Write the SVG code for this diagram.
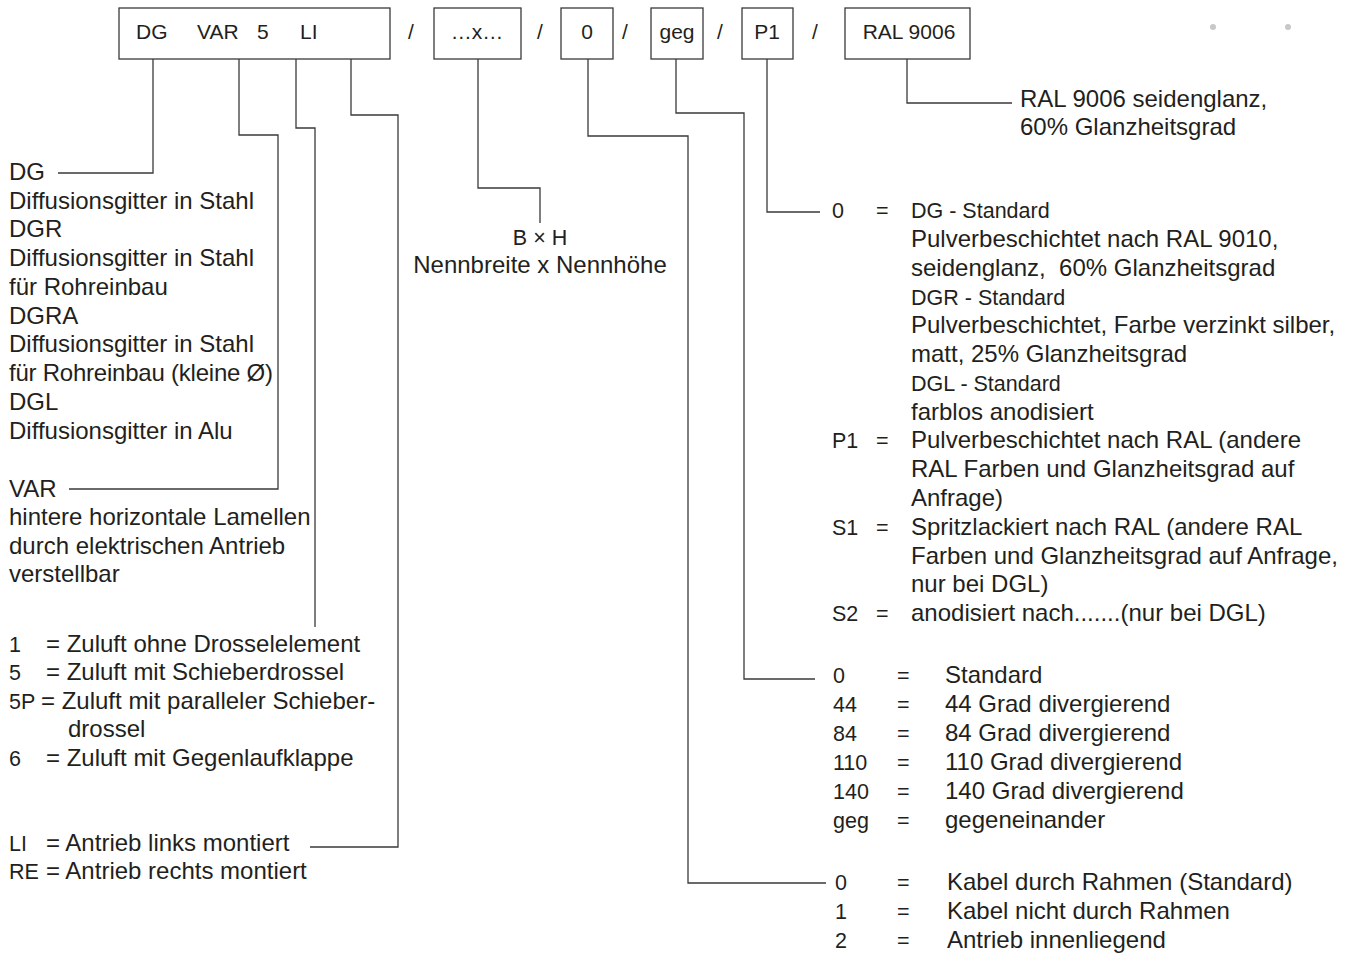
<svg xmlns="http://www.w3.org/2000/svg" width="1349" height="953" viewBox="0 0 1349 953">
<style>
text{font-family:"Liberation Sans",Arial,sans-serif;fill:#231f20}
.t{font-size:24px}
.m{font-size:21.5px}
.b{font-size:21px}
.box{fill:#fff;stroke:#3a3a3a;stroke-width:1.3}
.c{fill:none;stroke:#3a3a3a;stroke-width:1.3}
.mid{text-anchor:middle}
</style>
<rect width="1349" height="953" fill="#fff"/>
<g id="code">
<g id="box-main"><rect class="box" x="119" y="8" width="271" height="51"/>
<text class="b" x="136" y="39">DG</text><text class="b" x="197" y="39">VAR</text><text class="b" x="257" y="39">5</text><text class="b" x="300" y="39">LI</text></g>
<text class="b mid" x="411" y="39">/</text>
<g id="box-size"><rect class="box" x="434" y="8" width="87" height="51"/><text class="b mid" x="477" y="39">…x…</text></g>
<text class="b mid" x="540" y="39">/</text>
<g id="box-0"><rect class="box" x="561" y="8" width="52" height="51"/><text class="b mid" x="587" y="39">0</text></g>
<text class="b mid" x="625" y="39">/</text>
<g id="box-geg"><rect class="box" x="651" y="8" width="52" height="51"/><text class="b mid" x="677" y="39">geg</text></g>
<text class="b mid" x="720" y="39">/</text>
<g id="box-p1"><rect class="box" x="742" y="8" width="51" height="51"/><text class="b mid" x="767" y="39">P1</text></g>
<text class="b mid" x="815" y="39">/</text>
<g id="box-ral"><rect class="box" x="845" y="8" width="125" height="51"/><text class="b mid" x="909" y="39">RAL 9006</text></g>
</g>
<g id="connectors">
<path class="c" d="M153 59V173H58"/>
<path class="c" d="M239 59V135H278V489H69"/>
<path class="c" d="M296 59V128H315V627"/>
<path class="c" d="M351 59V115H398V847H310"/>
<path class="c" d="M478 59V188H540V223"/>
<path class="c" d="M588 59V136H688V883H826"/>
<path class="c" d="M676 59V113H744V679H815"/>
<path class="c" d="M767 59V212H820"/>
<path class="c" d="M907 59V103H1012"/>
</g>
<g id="legend-type">
<text class="t" x="9" y="180">DG</text>
<text class="t" x="9" y="209">Diffusionsgitter in Stahl</text>
<text class="t" x="9" y="237">DGR</text>
<text class="t" x="9" y="266">Diffusionsgitter in Stahl</text>
<text class="t" x="9" y="295">für Rohreinbau</text>
<text class="t" x="9" y="324">DGRA</text>
<text class="t" x="9" y="352">Diffusionsgitter in Stahl</text>
<text class="t" x="9" y="381" textLength="264">für Rohreinbau (kleine Ø)</text>
<text class="t" x="9" y="410">DGL</text>
<text class="t" x="9" y="439">Diffusionsgitter in Alu</text>
</g>
<g id="legend-var">
<text class="t" x="9" y="497">VAR</text>
<text class="t" x="9" y="525">hintere horizontale Lamellen</text>
<text class="t" x="9" y="554">durch elektrischen Antrieb</text>
<text class="t" x="9" y="582">verstellbar</text>
</g>
<g id="legend-damper">
<text class="m" x="9" y="652">1</text><text class="t" x="46" y="652">= Zuluft ohne Drosselelement</text>
<text class="m" x="9" y="680">5</text><text class="t" x="46" y="680">= Zuluft mit Schieberdrossel</text>
<text class="m" x="9" y="709">5P</text><text class="t" x="41" y="709">= Zuluft mit paralleler Schieber-</text>
<text class="t" x="68" y="737">drossel</text>
<text class="m" x="9" y="766">6</text><text class="t" x="46" y="766">= Zuluft mit Gegenlaufklappe</text>
</g>
<g id="legend-drive">
<text class="m" x="9" y="851">LI</text><text class="t" x="46" y="851">= Antrieb links montiert</text>
<text class="m" x="9" y="879">RE</text><text class="t" x="46" y="879">= Antrieb rechts montiert</text>
</g>
<g id="legend-size">
<text class="m mid" x="540" y="245">B × H</text>
<text class="t mid" x="540" y="273">Nennbreite x Nennhöhe</text>
</g>
<g id="legend-ral">
<text class="t" x="1020" y="107">RAL 9006 seidenglanz,</text>
<text class="t" x="1020" y="135">60% Glanzheitsgrad</text>
</g>
<g id="legend-finish">
<text class="m" x="832" y="218">0</text><text class="m" x="876" y="218">=</text><text class="m" x="911" y="218">DG - Standard</text>
<text class="t" x="911" y="247">Pulverbeschichtet nach RAL 9010,</text>
<text class="t" x="911" y="276" style="white-space:pre">seidenglanz,  60% Glanzheitsgrad</text>
<text class="m" x="911" y="305">DGR - Standard</text>
<text class="t" x="911" y="333">Pulverbeschichtet, Farbe verzinkt silber,</text>
<text class="t" x="911" y="362">matt, 25% Glanzheitsgrad</text>
<text class="m" x="911" y="391">DGL - Standard</text>
<text class="t" x="911" y="420">farblos anodisiert</text>
<text class="m" x="832" y="448">P1</text><text class="m" x="876" y="448">=</text><text class="t" x="911" y="448">Pulverbeschichtet nach RAL (andere</text>
<text class="t" x="911" y="477">RAL Farben und Glanzheitsgrad auf</text>
<text class="t" x="911" y="506">Anfrage)</text>
<text class="m" x="832" y="535">S1</text><text class="m" x="876" y="535">=</text><text class="t" x="911" y="535">Spritzlackiert nach RAL (andere RAL</text>
<text class="t" x="911" y="564">Farben und Glanzheitsgrad auf Anfrage,</text>
<text class="t" x="911" y="592">nur bei DGL)</text>
<text class="m" x="832" y="621">S2</text><text class="m" x="876" y="621">=</text><text class="t" x="911" y="621">anodisiert nach.......(nur bei DGL)</text>
</g>
<g id="legend-angle">
<text class="m" x="833" y="683">0</text><text class="m" x="897" y="683">=</text><text class="t" x="945" y="683">Standard</text>
<text class="m" x="833" y="712">44</text><text class="m" x="897" y="712">=</text><text class="t" x="945" y="712">44 Grad divergierend</text>
<text class="m" x="833" y="741">84</text><text class="m" x="897" y="741">=</text><text class="t" x="945" y="741">84 Grad divergierend</text>
<text class="m" x="833" y="770">110</text><text class="m" x="897" y="770">=</text><text class="t" x="945" y="770">110 Grad divergierend</text>
<text class="m" x="833" y="799">140</text><text class="m" x="897" y="799">=</text><text class="t" x="945" y="799">140 Grad divergierend</text>
<text class="m" x="833" y="828">geg</text><text class="m" x="897" y="828">=</text><text class="t" x="945" y="828">gegeneinander</text>
</g>
<g id="legend-cable">
<text class="m" x="835" y="890">0</text><text class="m" x="897" y="890">=</text><text class="t" x="947" y="890">Kabel durch Rahmen (Standard)</text>
<text class="m" x="835" y="919">1</text><text class="m" x="897" y="919">=</text><text class="t" x="947" y="919">Kabel nicht durch Rahmen</text>
<text class="m" x="835" y="948">2</text><text class="m" x="897" y="948">=</text><text class="t" x="947" y="948">Antrieb innenliegend</text>
</g>
<g id="dots" fill="#c8c8c8"><circle cx="1213" cy="27" r="3"/><circle cx="1288" cy="27" r="3"/></g>
</svg>
